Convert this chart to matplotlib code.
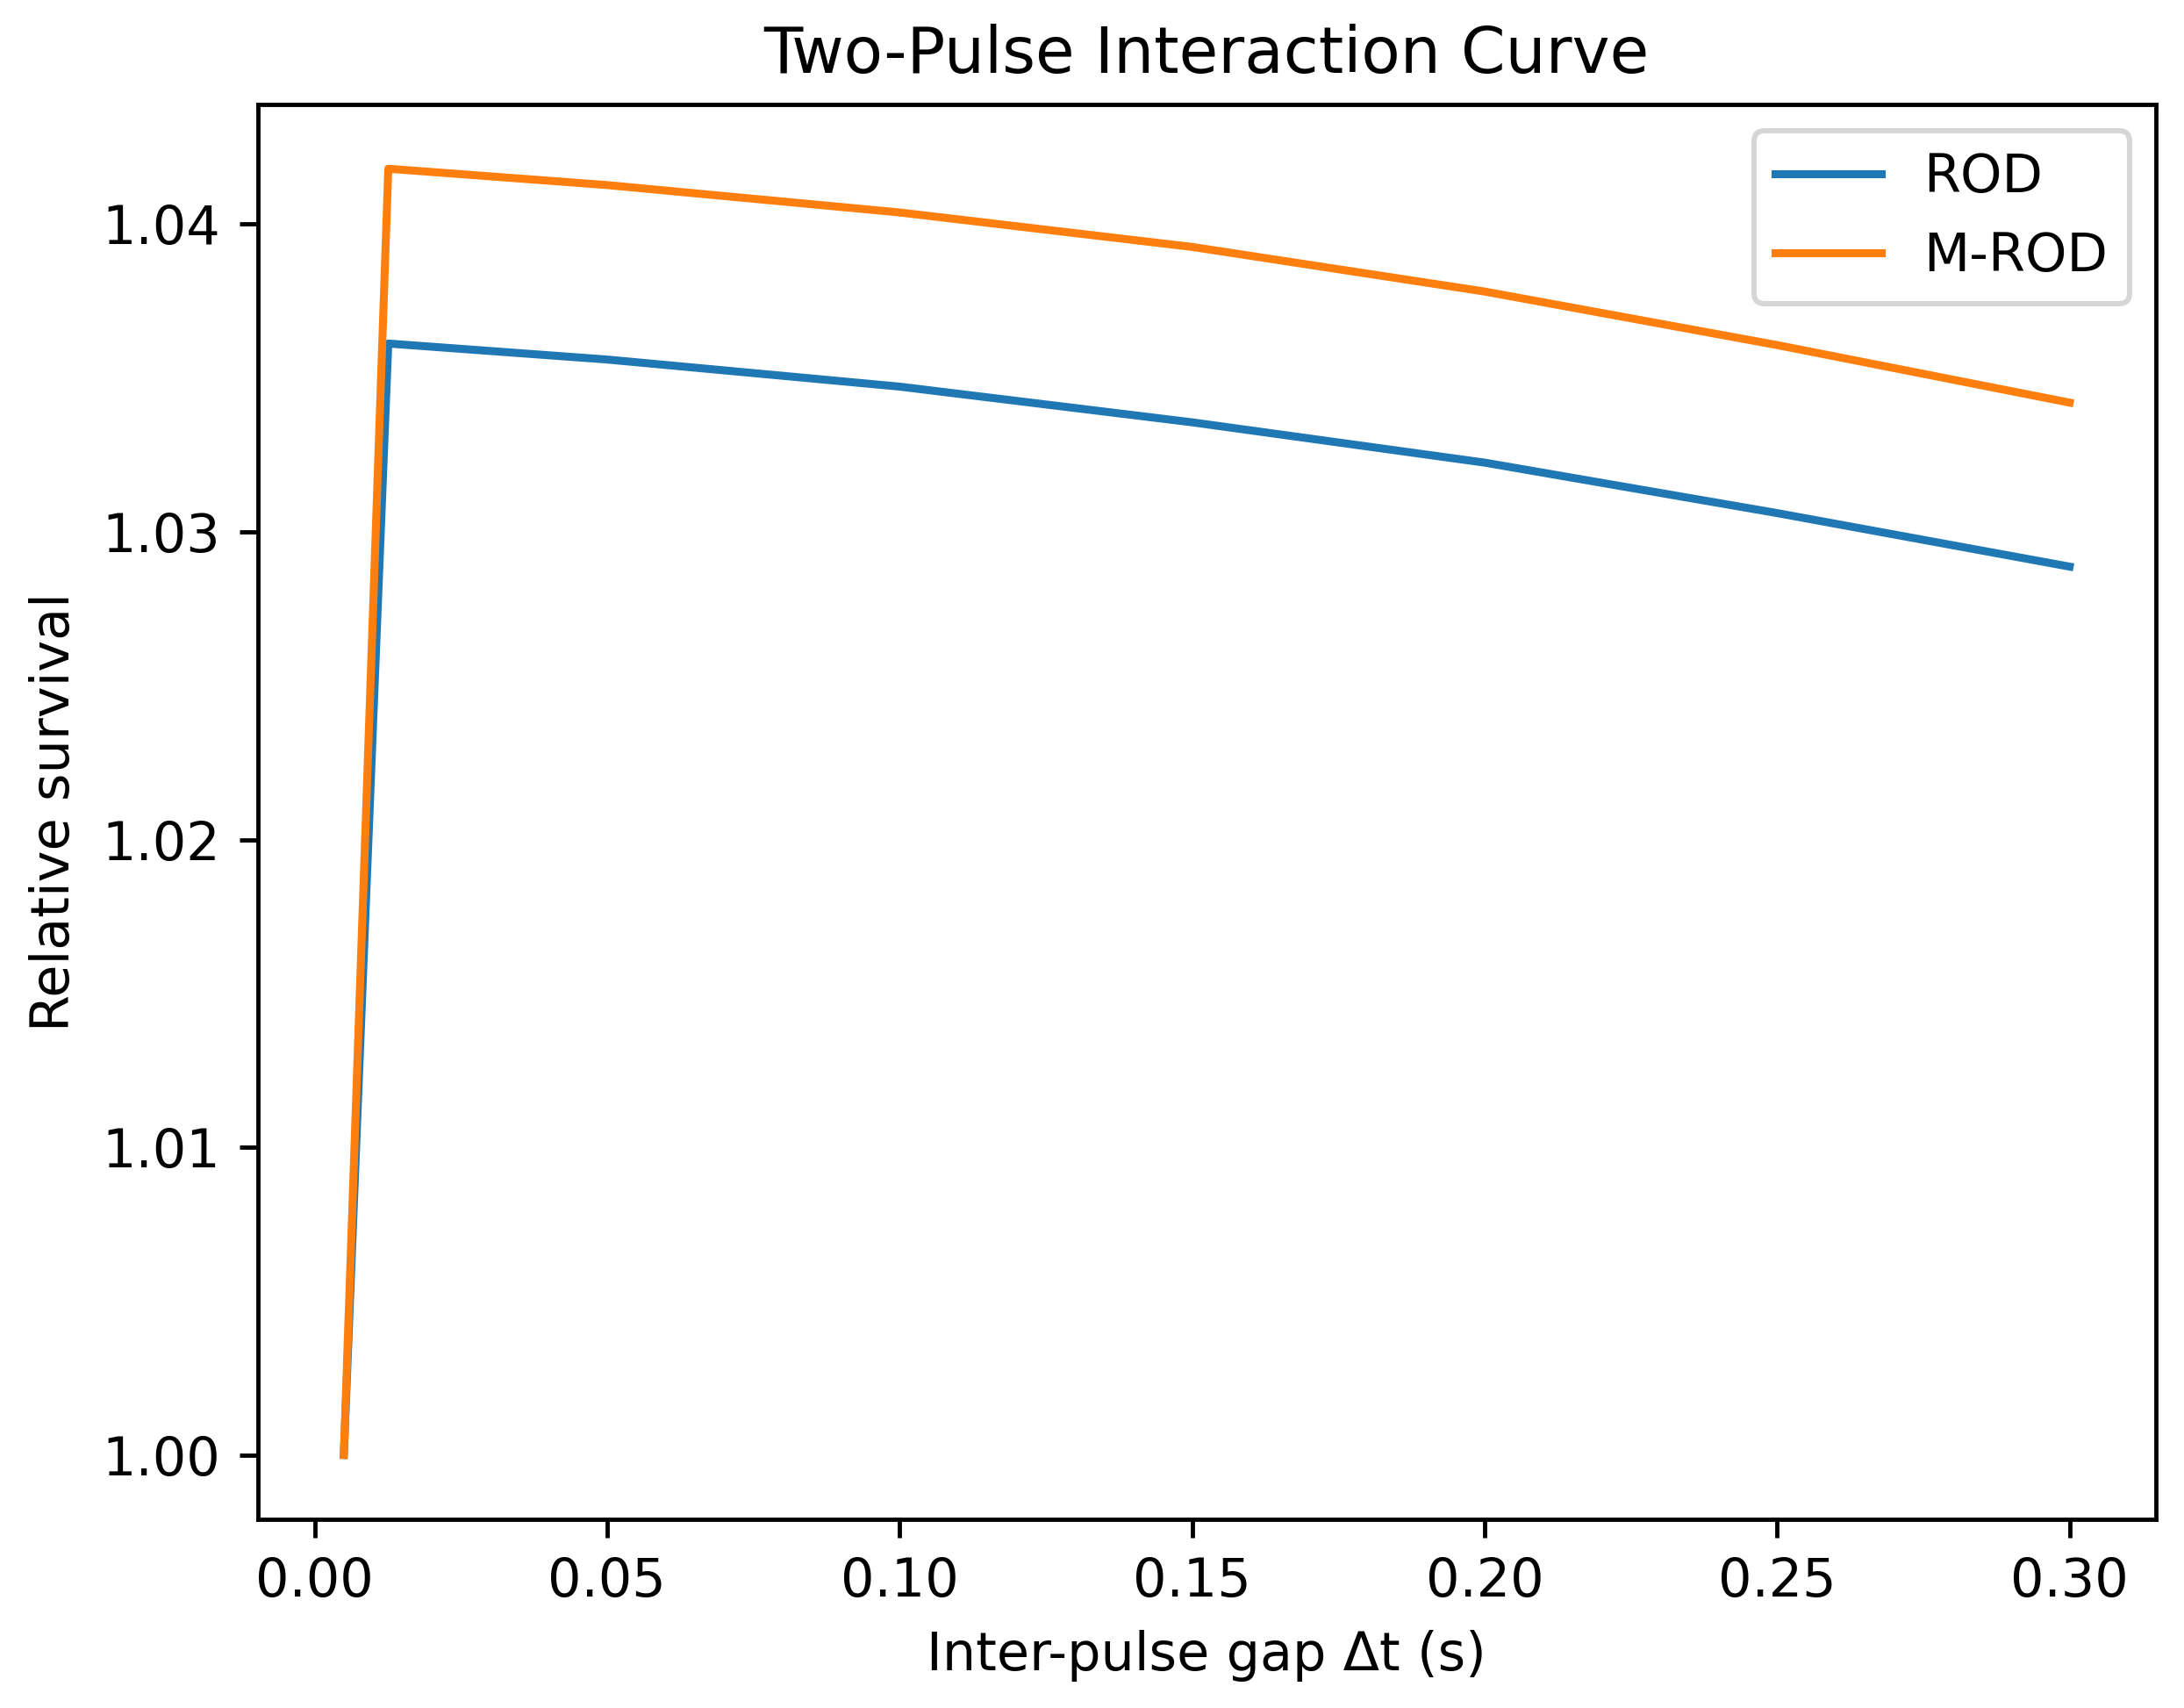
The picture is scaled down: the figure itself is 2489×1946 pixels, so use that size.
import numpy as np
import matplotlib
matplotlib.use("Agg")
import matplotlib.pyplot as plt

# Values
gap = [0.005, 0.0126, 0.05, 0.10, 0.15, 0.20, 0.25, 0.30]
rod = [1.0000, 1.03612, 1.0356, 1.03472, 1.03356, 1.03225, 1.03061, 1.02887]
mrod = [1.0000, 1.0418, 1.04127, 1.04038, 1.03926, 1.03781, 1.03607, 1.0342]

DPI = 436
fig = plt.figure(figsize=(2489 / DPI, 1946 / DPI), dpi=DPI)
ax = fig.add_axes([293.5 / 2489, 1 - 1731 / 1946,
                   (2457 - 293.5) / 2489, (1731 - 119) / 1946])

ax.plot(gap, rod, label='ROD')
ax.plot(gap, mrod, label='M-ROD')

ax.set_xlabel("Inter-pulse gap \u0394t (s)")
ax.set_ylabel("Relative survival")
ax.set_title("Two-Pulse Interaction Curve")
ax.legend(loc='upper right')

fig.savefig('out.png', dpi=DPI)
